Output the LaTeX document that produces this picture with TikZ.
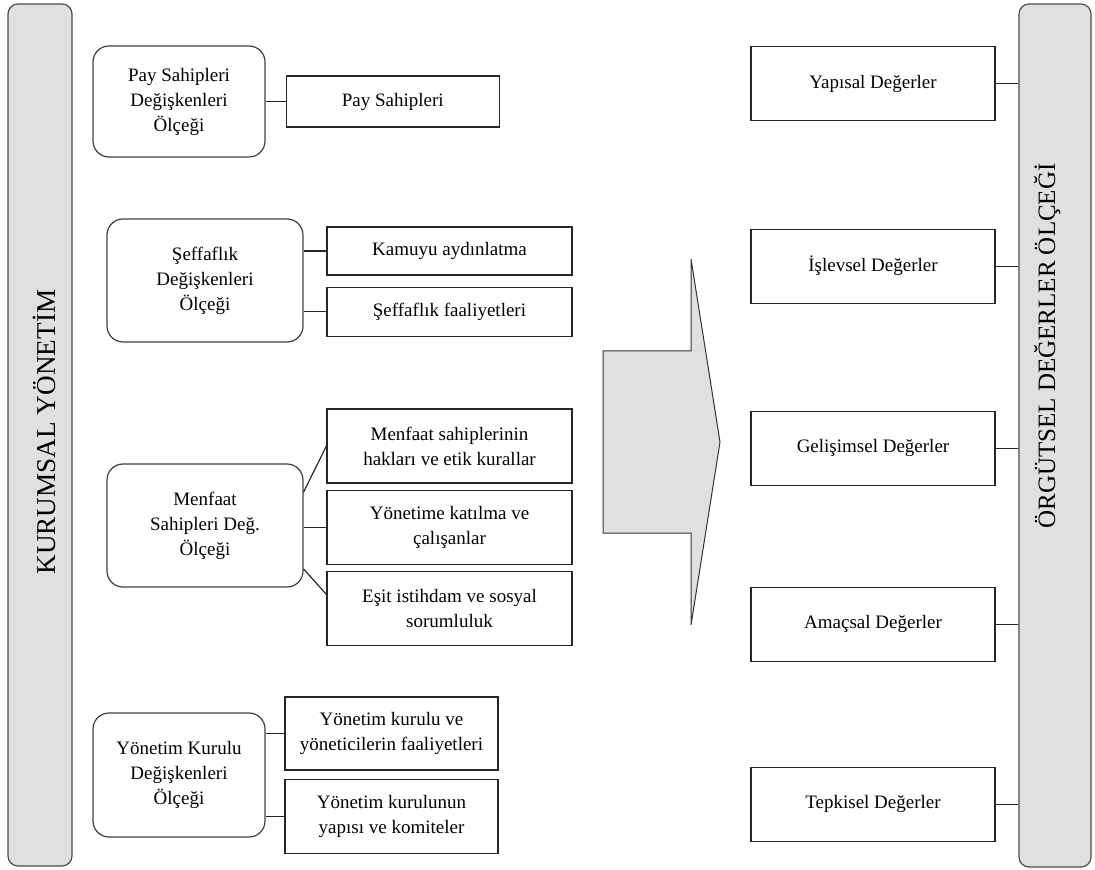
\documentclass[tikz,border=0pt]{standalone}
\usepackage{fontspec}
\setmainfont{Liberation Serif}
\usetikzlibrary{positioning}

\begin{document}
\begin{tikzpicture}[
    x=0.5pt, y=-0.5pt,
    node distance=10pt,
    sidebar/.style={rectangle, draw=black!70, fill=black!12, rounded corners=5pt, line width=0.6pt},
    sidetitle/.style={rotate=90, anchor=base, inner sep=0pt},
    scalebox/.style={rectangle, draw=black!75, rounded corners=8pt, line width=0.6pt, align=center, font=\fontsize{9.5}{12.5}\selectfont, inner sep=2pt},
    itembox/.style={rectangle, draw=black!85, line width=0.6pt, align=center, font=\fontsize{9.5}{12.5}\selectfont, inner sep=2pt},
    valuebox/.style={itembox, minimum width=122pt, minimum height=37pt},
    bigarrow/.style={draw=black!80, fill=black!12, line width=0.5pt},
    link/.style={draw=black!85, line width=0.6pt}
]
\useasboundingbox (0,0) rectangle (1095,870);

% yan kolonlar
\node[sidebar, minimum width=32pt, minimum height=431pt] (kybar) at (40,435) {};
\node[sidetitle, font=\fontsize{13.6}{15}\selectfont] (kytitle) at (55,432) {KURUMSAL YÖNETİM};
\node[sidebar, minimum width=36pt, minimum height=431.5pt] (obbar) at (1055,435.5) {};
\node[sidetitle, font=\fontsize{12.5}{15}\selectfont] (obtitle) at (1055,346) {ÖRGÜTSEL DEĞERLER ÖLÇEĞİ};

% Pay Sahipleri
\node[scalebox, minimum width=86pt, minimum height=55.5pt] (pay) at (179,101.5) {Pay Sahipleri\\Değişkenleri\\Ölçeği};
\node[itembox, minimum width=106.5pt, minimum height=25.5pt, right=10pt of pay] (pay1) {Pay Sahipleri};

% Şeffaflık
\node[scalebox, minimum width=98pt, minimum height=61.5pt] (sef) at (205,280.5) {Şeffaflık\\Değişkenleri\\Ölçeği};
\node[itembox, minimum width=122.5pt, minimum height=24pt] (sef1) at (449.5,251) {Kamuyu aydınlatma};
\node[itembox, minimum width=122.5pt, minimum height=24.5pt, below=5.5pt of sef1] (sef2) {Şeffaflık faaliyetleri};

% Menfaat Sahipleri
\node[scalebox, minimum width=98pt, minimum height=61.5pt] (men) at (205,525.5) {Menfaat\\Sahipleri Değ.\\Ölçeği};
\node[itembox, minimum width=122.5pt, minimum height=37pt] (men1) at (449.5,446) {Menfaat sahiplerinin\\hakları ve etik kurallar};
\node[itembox, minimum width=122.5pt, minimum height=37pt, below=3pt of men1] (men2) {Yönetime katılma ve\\çalışanlar};
\node[itembox, minimum width=122.5pt, minimum height=37pt, below=3pt of men2] (men3) {Eşit istihdam ve sosyal\\sorumluluk};

% Yönetim Kurulu
\node[scalebox, minimum width=86pt, minimum height=62pt] (yk) at (179,775) {Yönetim Kurulu\\Değişkenleri\\Ölçeği};
\node[itembox, minimum width=106.5pt, minimum height=36.5pt] (yk1) at (391.5,733.5) {Yönetim kurulu ve\\yöneticilerin faaliyetleri};
\node[itembox, minimum width=106.5pt, minimum height=37pt, below=4pt of yk1] (yk2) {Yönetim kurulunun\\yapısı ve komiteler};

% büyük ok
\draw[bigarrow] (603,351) -- (691,351) -- (691,259) -- (720,442) -- (691,625) -- (691,533) -- (603,533) -- cycle;

% değerler
\node[valuebox] (yap) at (873,83.5) {Yapısal Değerler};
\node[valuebox, below=53.75pt of yap] (isl) {İşlevsel Değerler};
\node[valuebox, below=53.5pt of isl] (gel) {Gelişimsel Değerler};
\node[valuebox, below=50.25pt of gel] (amc) {Amaçsal Değerler};
\node[valuebox, below=52.5pt of amc] (tep) {Tepkisel Değerler};

% bağlantılar
\draw[link] (pay1.west) -- (pay1.west -| pay.east);
\draw[link] (sef1.west) -- (sef1.west -| sef.east);
\draw[link] (sef2.west) -- (sef2.west -| sef.east);
\draw[link] (men1.west) -- ([yshift=16.75pt]men.east);
\draw[link] (men2.west) -- (men2.west -| men.east);
\draw[link] ([yshift=7pt]men3.west) -- ([yshift=-21.75pt]men.east);
\draw[link] (yk1.west) -- (yk1.west -| yk.east);
\draw[link] (yk2.west) -- (yk2.west -| yk.east);
\draw[link] (yap.east) -- (yap.east -| obbar.west);
\draw[link] (isl.east) -- (isl.east -| obbar.west);
\draw[link] (gel.east) -- (gel.east -| obbar.west);
\draw[link] (amc.east) -- (amc.east -| obbar.west);
\draw[link] (tep.east) -- (tep.east -| obbar.west);
\end{tikzpicture}
\end{document}
